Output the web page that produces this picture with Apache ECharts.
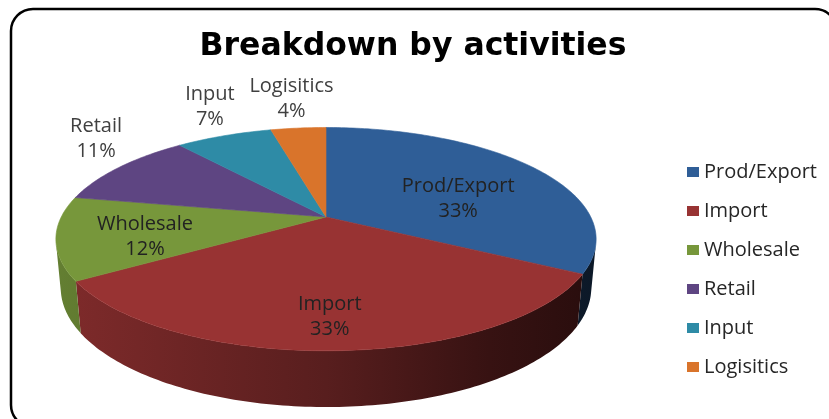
<!DOCTYPE html>
<html><head><meta charset="utf-8">
<script src="https://cdn.jsdelivr.net/npm/echarts@6/dist/echarts.min.js"></script>
<style>html,body{margin:0;padding:0;background:#fff}#c{width:829px;height:419px}</style>
</head><body><div id="c"></div>
<script>
// ---- data ----
const titleText = 'Breakdown by activities';
const categories = ['Prod/Export', 'Import', 'Wholesale', 'Retail', 'Input', 'Logisitics'];
const shares = [33, 33, 12, 11, 7, 4];
const palette = ['#2F5E97', '#983333', '#77973B', '#5E4582', '#2E8BA6', '#D9742B'];

// ---- 3D pie projection settings ----
const FONT = '"Open Sans", Lato, sans-serif';
const TITLE_FONT = '"DejaVu Sans", "Open Sans", sans-serif';
const total = shares.reduce((a, b) => a + b, 0);
const CX = 326, CY = 217, F = 1220, D = 4.608, T = 0.2;
const AL = 23.9 * Math.PI / 180, SN = Math.sin(AL), CS = Math.cos(AL);
const ZS = 1 / (D * CS);                        // silhouette depth
const TH_S = Math.acos(-ZS) * 180 / Math.PI;    // first visible wall angle

function proj(x, z, y) {
  const w = D - z * CS - y * SN;
  const u = y * CS - z * SN;
  return [CX + F * x / w, CY - F * u / w];
}
function rim(deg, y, r) {
  const t = deg * Math.PI / 180; r = r == null ? 1 : r;
  return proj(r * Math.sin(t), -r * Math.cos(t), y);
}
function arc(a, b, y) {
  const pts = [], n = Math.max(2, Math.ceil((b - a) / 1));
  for (let k = 0; k <= n; k++) pts.push(rim(a + (b - a) * k / n, y));
  return pts;
}
function polyInfo(p) {
  let A = 0, x = 0, y = 0;
  for (let i = 0; i < p.length; i++) {
    const [x0, y0] = p[i], [x1, y1] = p[(i + 1) % p.length];
    const cr = x0 * y1 - x1 * y0;
    A += cr; x += (x0 + x1) * cr; y += (y0 + y1) * cr;
  }
  A /= 2;
  return A === 0 ? { a: 0, x: 0, y: 0 } : { a: Math.abs(A), x: x / (6 * A), y: y / (6 * A) };
}
function shadeHex(hex, f) {
  const n = parseInt(hex.slice(1), 16);
  const r = Math.round(((n >> 16) & 255) * f), g = Math.round(((n >> 8) & 255) * f), b = Math.round((n & 255) * f);
  return 'rgb(' + r + ',' + g + ',' + b + ')';
}
const startOf = shares.map((v, i) => shares.slice(0, i).reduce((a, b) => a + b, 0));

function renderSlice(i, v) {
  const a = startOf[i] / total * 360, b = (startOf[i] + v) / total * 360;
  const color = palette[i];
  const children = [];
  const topPts = [proj(0, 0, 0)].concat(arc(a, b, 0));
  const info = [polyInfo(topPts)];
  children.push({ type: 'polygon', z2: 5, shape: { points: topPts },
    style: { fill: color, stroke: color, lineWidth: 0.6 } });
  const lo = Math.max(a, TH_S), hi = Math.min(b, 360 - TH_S);
  if (hi > lo) {
    const wall = arc(lo, hi, 0).concat(arc(lo, hi, -T).reverse());
    info.push(polyInfo(wall));
    const L = CX - 272, R = CX + 272;
    children.push({ type: 'polygon', z2: 1, shape: { points: wall },
      style: { stroke: null, fill: { type: 'linear', global: true, x: L, y: 0, x2: R, y2: 0,
        colorStops: [ { offset: 0, color: shadeHex(color, 0.84) }, { offset: 0.5, color: shadeHex(color, 0.58) },
                      { offset: 0.8, color: shadeHex(color, 0.36) }, { offset: 1, color: shadeHex(color, 0.26) } ] } } });
  }
  const pct = Math.round(v / total * 100) + '%';
  const label = categories[i] + '\n' + pct;
  let lx, ly, fill;
  if (v / total >= 0.115) {
    let A = 0, X = 0, Y = 0;
    info.forEach(o => { A += o.a; X += o.x * o.a; Y += o.y * o.a; });
    lx = X / A; ly = Y / A; fill = '#222';
  } else {
    const m = (a + b) / 2, p = rim(m, 0);
    lx = p[0] + Math.sin(m * Math.PI / 180) * 22 - 4; ly = p[1] - 29; fill = '#404040';
  }
  children.push({ type: 'text', z2: 10, x: lx, y: ly,
    style: { text: label, fill: fill, font: '20px ' + FONT, align: 'center', verticalAlign: 'middle', lineHeight: 25 } });
  return { type: 'group', children: children };
}

const chart = echarts.init(document.getElementById('c'), null, { renderer: 'canvas' });
chart.setOption({
  animation: false,
  backgroundColor: '#fff',
  title: { text: titleText, left: 408, top: 26, textAlign: 'center',
    textStyle: { fontFamily: TITLE_FONT, fontWeight: 'bold', fontSize: 31.5, color: '#000' } },
  legend: { orient: 'vertical', left: 682, top: 157, itemWidth: 12, itemHeight: 10, itemGap: 19, icon: 'rect',
    selectedMode: false, data: categories,
    textStyle: { fontFamily: FONT, fontSize: 20, lineHeight: 20, color: '#262626' } },
  graphic: [{ type: 'rect', z: -10, silent: true, shape: { x: 11, y: 9, width: 826, height: 418, r: 22 },
    style: { fill: 'none', stroke: '#000', lineWidth: 2.5 } }],
  series: categories.map((name, i) => ({
    type: 'custom', name: name, coordinateSystem: 'none', silent: true,
    itemStyle: { color: palette[i] },
    data: [[shares[i]]],
    renderItem: (params, api) => renderSlice(i, api.value(0))
  }))
});
</script></body></html>
